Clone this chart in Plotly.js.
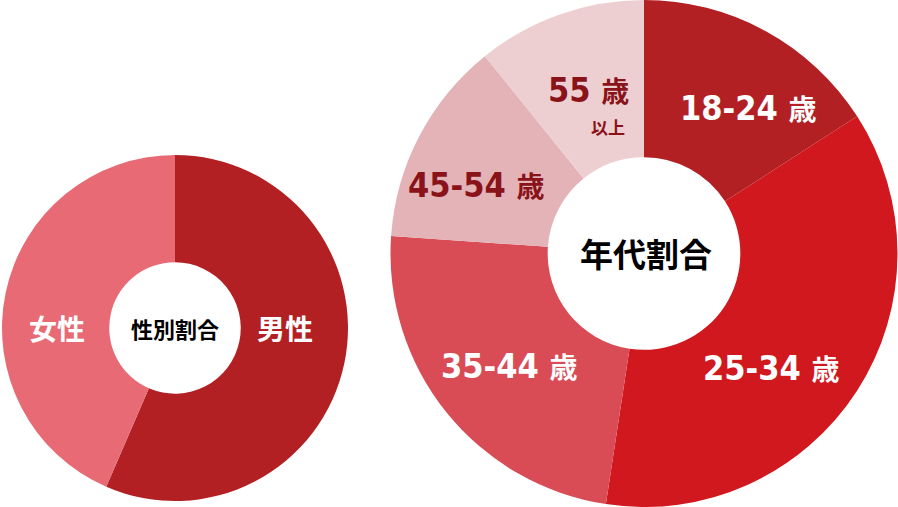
<!DOCTYPE html>
<html>
<head>
<meta charset="utf-8">
<script src="https://cdn.plot.ly/plotly-3.0.1.min.js"></script>
<style>
  html, body { margin: 0; padding: 0; background: #fff; }
  #chart { width: 898px; height: 507px; }
</style>
</head>
<body>
<div id="chart"></div>
<script>
// gender split (left donut)
var genderLabels = ["男性", "女性"];
var genderValues = [56.5, 43.5];
var genderColors = ["#b22024", "#e76a75"];

// age split (right donut), clockwise from 12 o'clock
var ageLabels = ["18-24", "25-34", "35-44", "45-54", "55"];
var ageValues = [15.9, 36.5, 23.7, 13.1, 10.8];
var ageColors = ["#b22024", "#d0181e", "#d94b55", "#e3b3b8", "#edcfd2"];
var ageTextColors = ["#ffffff", "#ffffff", "#ffffff", "#8a1219", "#8a1219"];

var numFont = "DejaVu Sans Condensed, DejaVu Sans, Noto Sans CJK JP";
var jpFont = "Noto Sans CJK JP, sans-serif";

var data = [
  {
    type: "pie",
    labels: genderLabels,
    values: genderValues,
    sort: false,
    direction: "clockwise",
    rotation: 0,
    hole: 0.38,
    marker: { colors: genderColors, line: { width: 0 } },
    textinfo: "none",
    hoverinfo: "skip",
    domain: { x: [2 / 898, 348 / 898], y: [6 / 507, 352 / 507] }
  },
  {
    type: "pie",
    labels: ageLabels,
    values: ageValues,
    sort: false,
    direction: "clockwise",
    rotation: 0,
    hole: 0.38,
    marker: { colors: ageColors, line: { width: 0 } },
    textinfo: "none",
    hoverinfo: "skip",
    domain: { x: [390 / 898, 1], y: [0, 1] }
  }
];

// label placement (pixels from top-left)
var genderPos = [[285, 328], [57, 328]];
var agePos = [[748, 108], [771, 368], [509, 366], [476, 185], [588, 90]];

function px(x) { return x / 898; }
function py(y) { return 1 - y / 507; }

var annotations = [];

function addText(x, y, text, font) {
  annotations.push({
    x: px(x), y: py(y), xref: "paper", yref: "paper",
    xanchor: "center", yanchor: "middle", showarrow: false,
    text: text, font: font
  });
}

genderLabels.forEach(function (lab, i) {
  addText(genderPos[i][0], genderPos[i][1], lab,
    { family: jpFont, size: 28, color: "#ffffff", weight: "bold" });
});

ageLabels.forEach(function (lab, i) {
  addText(agePos[i][0], agePos[i][1],
    "<span style='font-stretch:condensed'>" + lab + "</span> " +
    "<span style='font-size:28px;font-family:Noto Sans CJK JP'>歳</span>",
    { family: numFont, size: 34, color: ageTextColors[i], weight: "bold" });
});

// small "以上" under 55 歳
addText(608, 127, "以上", { family: jpFont, size: 17, color: ageTextColors[4], weight: "bold" });

// centre titles
addText(175, 328, "性別割合", { family: jpFont, size: 22, color: "#000000", weight: "bold" });
addText(646, 253, "年代割合", { family: jpFont, size: 33, color: "#000000", weight: "bold" });

var layout = {
  width: 898,
  height: 507,
  margin: { l: 0, r: 0, t: 0, b: 0 },
  paper_bgcolor: "#ffffff",
  showlegend: false,
  annotations: annotations
};

Plotly.newPlot("chart", data, layout, { staticPlot: true, displayModeBar: false });
</script>
</body>
</html>
